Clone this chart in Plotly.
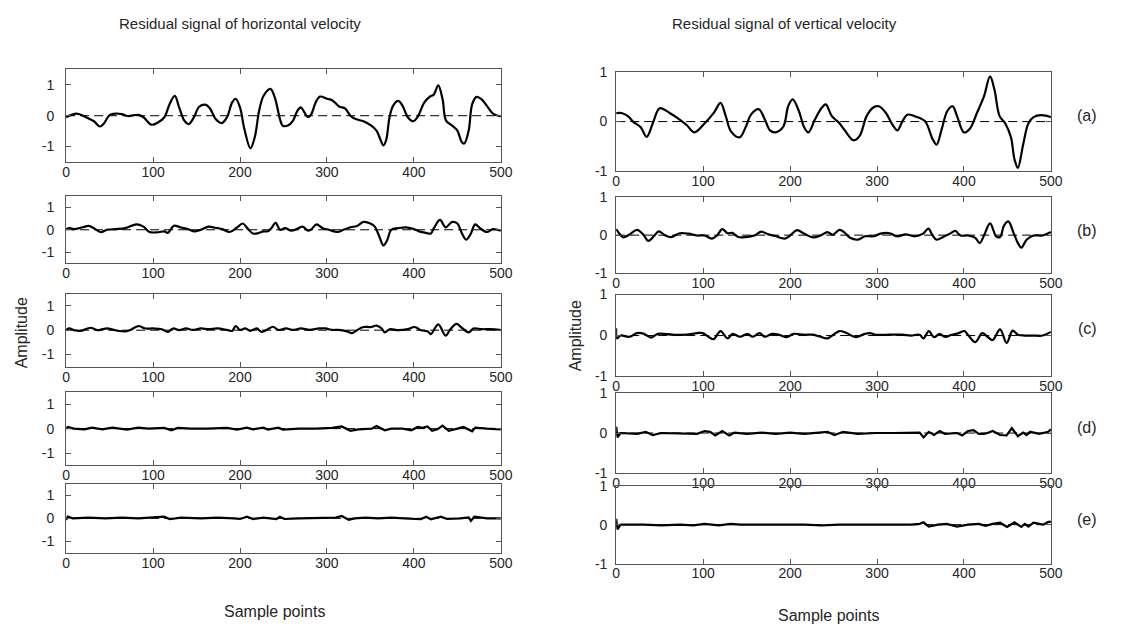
import plotly.graph_objects as go
from plotly.subplots import make_subplots

# ---------------------------------------------------------------
# Residual signals (sample index, amplitude) for each decomposition level
# ---------------------------------------------------------------
# horizontal velocity
h_a_x = [0, 12, 23, 32, 39, 43, 50, 57, 64, 71, 83, 89, 98, 106, 113, 119, 125, 130, 136, 141,
         147, 153, 161, 166, 172, 179, 185, 191, 195, 200, 205, 212, 217, 222, 227, 235, 240, 246, 249, 255,
         261, 266, 270, 274, 278, 282, 287, 292, 300, 306, 314, 321, 327, 333, 342, 351, 357, 361, 365, 368,
         372, 376, 382, 387, 393, 399, 404, 412, 418, 423, 428, 433, 437, 444, 450, 455, 458, 463, 467, 472,
         478, 484, 491, 500]
h_a_y = [-0.05, 0.07, -0.05, -0.18, -0.35, -0.27, 0.02, 0.07, 0.05, -0.01, 0.03, -0.05, -0.29, -0.21, -0.05, 0.37, 0.64, 0.27, -0.16, -0.27,
         -0.05, 0.29, 0.35, 0.21, -0.11, -0.24, -0.05, 0.43, 0.55, 0.27, -0.43, -1.06, -0.69, 0.16, 0.64, 0.87, 0.59, -0.11, -0.32, -0.32,
         -0.16, 0.16, 0.27, 0.11, -0.05, 0.05, 0.43, 0.62, 0.55, 0.5, 0.3, 0.23, 0.0, -0.11, -0.18, -0.32, -0.48, -0.74, -0.96, -0.8,
         -0.05, 0.32, 0.48, 0.32, -0.05, -0.18, -0.05, 0.43, 0.61, 0.69, 0.98, 0.53, -0.16, -0.32, -0.48, -0.85, -0.9, -0.48, 0.37, 0.61,
         0.53, 0.32, 0.07, -0.02]

h_b_x = [0, 4, 9, 19, 26, 32, 40, 47, 57, 68, 81, 89, 96, 106, 113, 117, 124, 132, 140, 147,
         155, 164, 170, 179.5, 188, 196.5, 203, 210, 215, 221, 227, 232, 236, 241, 246, 252, 259, 265, 272, 278,
         281.5, 288, 295, 302, 312, 319, 327, 334.5, 342, 350, 355, 360, 365, 369, 374, 382, 391, 399, 406, 414,
         419.5, 423, 430, 436.5, 444, 450, 455, 460, 465, 470.5, 476, 484, 491, 500]
h_b_y = [0.03, 0.07, 0.03, 0.11, 0.17, 0.07, -0.11, 0.0, 0.03, 0.07, 0.24, 0.14, -0.1, -0.11, -0.07, -0.14, 0.18, 0.1, 0.03, -0.07,
         0.0, 0.14, 0.1, 0.03, -0.1, 0.1, 0.28, 0.0, -0.17, -0.15, -0.07, -0.07, 0.07, 0.31, 0.0, 0.07, -0.04, 0.03, 0.14, -0.04,
         0.0, 0.24, 0.07, 0.0, -0.1, 0.0, 0.11, 0.17, 0.35, 0.28, 0.14, -0.28, -0.7, -0.49, 0.0, 0.07, 0.11, 0.04, -0.07, -0.14,
         -0.17, 0.07, 0.44, 0.11, 0.35, 0.28, -0.14, -0.44, -0.21, 0.24, 0.07, -0.1, 0.03, -0.04]

h_c_x = [0, 4, 9, 17, 28, 36, 42, 47, 55, 60.5, 68, 74, 83, 91, 100, 110, 117, 123, 130, 138,
         145.5, 155, 164, 174, 185, 191, 195, 200, 206, 212, 219, 225, 232, 238, 244, 253, 261, 270, 280, 291,
         298.5, 306, 313.5, 323, 329, 334.5, 342, 351, 357, 363, 366.5, 372, 382, 393, 401, 408, 416, 419.5, 428, 436.5,
         442, 449, 455, 463, 468.5, 478, 487.5, 500]
h_c_y = [0.01, 0.07, 0.0, -0.03, 0.1, 0.0, 0.04, 0.07, 0.01, -0.03, -0.05, 0.01, 0.17, 0.07, 0.07, 0.04, -0.07, 0.07, 0.0, 0.07,
         0.01, 0.07, 0.04, 0.07, 0.01, -0.03, 0.17, 0.01, 0.07, -0.03, 0.07, -0.07, 0.04, 0.14, 0.01, 0.07, 0.01, 0.07, 0.01, 0.07,
         0.07, 0.01, 0.01, -0.05, -0.12, 0.0, 0.13, 0.13, 0.19, 0.07, -0.09, 0.04, 0.0, 0.04, 0.13, 0.0, -0.05, -0.16, 0.24, -0.22,
         0.04, 0.26, 0.1, -0.09, 0.07, 0.04, 0.04, 0.0]

h_d_x = [0, 2, 9, 21, 30, 41.5, 53, 70, 83, 94.5, 113, 121, 128.5, 143.5, 162.5, 185, 196.5, 208, 215, 227,
         232, 244, 249.5, 268, 287, 306, 317, 327, 336, 351.5, 357, 366.5, 374, 387, 397, 404.5, 410, 415.5, 421, 427,
         433, 440, 450, 457, 467, 470.5, 484, 500]
h_d_y = [0.0, 0.07, 0.0, -0.03, 0.04, -0.03, 0.04, -0.04, 0.04, 0.0, 0.03, -0.07, 0.03, 0.0, 0.0, 0.03, -0.04, 0.04, -0.03, 0.04,
         -0.04, 0.04, -0.04, 0.0, 0.0, 0.03, 0.09, -0.09, -0.03, 0.0, 0.11, -0.07, 0.0, 0.0, -0.07, 0.07, 0.03, 0.09, -0.09, -0.03,
         0.12, -0.09, 0.0, 0.07, -0.11, 0.04, 0.0, -0.03]

h_e_x = [0, 2, 7.5, 26, 45, 64, 83, 102, 113, 119, 132, 155, 174, 193, 200, 208, 215, 227, 242, 246,
         251, 268, 291, 310, 317, 325, 332, 344, 359, 374, 389, 408, 414, 419.5, 431, 438, 453.5, 463, 465.5, 469.5,
         484, 500]
h_e_y = [-0.07, 0.07, 0.0, 0.03, 0.0, 0.03, 0.0, 0.03, 0.07, -0.04, 0.03, 0.0, 0.03, 0.0, -0.03, 0.07, -0.03, 0.03, -0.03, 0.07,
         -0.03, 0.0, 0.0, 0.03, 0.1, -0.07, 0.0, 0.03, 0.0, 0.03, 0.0, -0.04, 0.07, -0.04, 0.07, -0.03, 0.0, 0.04, -0.11, 0.07,
         0.0, 0.0]

# vertical velocity
v_a_x = [0, 7, 13.5, 20, 28, 35, 42, 50, 61, 73, 81, 90, 101.5, 112, 120, 126, 132, 142, 149, 155,
         164, 171, 177, 183, 192, 198, 203, 210, 216, 221, 228.5, 236, 241, 248, 256, 263, 273, 280, 288, 296,
         302, 310, 318, 323.5, 329, 335, 343, 355, 364, 368.5, 374, 381, 387, 392, 400, 407, 415, 423, 430, 435,
         441, 447.5, 454, 458, 462, 468, 474, 480, 489, 500]
v_a_y = [0.17, 0.17, 0.11, -0.01, -0.11, -0.31, -0.04, 0.27, 0.18, 0.04, -0.07, -0.22, -0.04, 0.17, 0.38, 0.11, -0.2, -0.32, -0.11, 0.14,
         0.25, 0.04, -0.18, -0.22, -0.11, 0.32, 0.45, 0.22, -0.11, -0.22, 0.04, 0.27, 0.35, 0.11, -0.02, -0.18, -0.38, -0.29, 0.11, 0.29,
         0.31, 0.18, -0.07, -0.18, 0.0, 0.14, 0.11, 0.01, -0.36, -0.47, -0.18, 0.22, 0.31, 0.11, -0.22, -0.14, 0.18, 0.51, 0.92, 0.65,
         0.11, -0.04, -0.32, -0.76, -0.94, -0.47, -0.04, 0.09, 0.13, 0.09]

v_b_x = [0, 3, 8, 15.5, 24, 31, 37, 44, 49, 56.5, 63, 73, 83, 93, 101.5, 110, 116, 122, 128, 133.5,
         140.5, 149, 159, 167, 175, 183.5, 194, 200, 208, 216, 226.5, 235, 243, 249, 257, 263, 269, 278, 286, 296,
         304, 314.5, 323, 333, 343, 353, 359, 364, 368.5, 376, 384, 390, 396, 404.5, 413, 418, 423, 430, 437, 441.5,
         446, 451, 457, 462, 466, 472, 480, 490.5, 500]
v_b_y = [0.16, 0.06, -0.06, 0.02, 0.14, 0.02, -0.15, -0.01, 0.1, -0.01, -0.05, 0.05, 0.04, -0.01, -0.01, -0.09, -0.01, 0.16, 0.05, 0.06,
         -0.05, -0.05, -0.01, 0.09, 0.02, -0.03, -0.09, -0.01, 0.13, 0.04, -0.06, -0.01, 0.08, 0.01, 0.14, 0.06, -0.07, -0.12, -0.03, -0.03,
         0.04, 0.05, -0.03, 0.02, -0.03, 0.04, 0.17, -0.01, -0.12, -0.05, 0.04, 0.11, -0.01, -0.01, -0.07, -0.21, -0.01, 0.31, -0.03, -0.05,
         0.25, 0.36, 0.06, -0.21, -0.33, -0.12, -0.01, -0.01, 0.08]

v_c_x = [0, 1, 5, 15.5, 24, 32, 40, 48, 65, 81, 93, 99.5, 106, 112, 120, 128, 134, 142.5, 151, 157,
         165, 171, 179, 187.5, 196, 204, 216, 226.5, 235, 243, 251, 257, 265, 275.5, 286, 292, 298, 314.5, 329, 339,
         349, 353.5, 359.5, 365.5, 372, 378, 386, 394, 400.5, 404.5, 413, 421, 427, 433, 441.5, 449, 456, 462, 470, 480,
         490.5, 500]
v_c_y = [0.18, -0.07, 0.0, -0.03, 0.06, 0.04, -0.05, 0.04, 0.02, 0.02, 0.06, 0.06, -0.03, -0.09, 0.11, -0.07, 0.04, -0.03, 0.04, -0.03,
         0.06, -0.03, 0.04, 0.02, -0.04, 0.04, 0.02, 0.02, -0.03, -0.07, 0.04, 0.11, 0.06, -0.04, 0.04, 0.06, 0.02, 0.02, 0.02, 0.0,
         0.02, -0.07, 0.11, -0.04, 0.04, -0.03, 0.02, 0.06, 0.11, 0.02, -0.16, 0.06, -0.03, -0.11, 0.15, -0.18, 0.12, 0.02, 0.0, 0.0,
         0.0, 0.09]

v_d_x = [0, 1.5, 5, 24, 34, 42, 52, 77, 93, 101.5, 108, 114, 122, 130, 136, 150.5, 167, 183.5, 200, 216,
         232.5, 243, 251, 261, 278, 298, 318.5, 339, 349, 353.5, 359.5, 365.5, 372, 378, 392, 398, 404.5, 411, 417, 423,
         427, 433, 441.5, 449, 455, 462, 468, 472, 476, 486.5, 497, 500]
v_d_y = [0.16, -0.11, 0.0, -0.02, 0.03, -0.05, 0.0, -0.02, -0.02, 0.05, 0.03, -0.06, 0.05, -0.06, 0.01, -0.02, 0.01, -0.02, 0.01, -0.02,
         0.01, 0.03, -0.05, 0.03, -0.02, 0.0, 0.0, 0.01, 0.01, -0.11, 0.03, -0.05, 0.05, -0.02, 0.0, -0.06, 0.05, 0.07, -0.02, -0.02,
         0.0, 0.05, -0.05, -0.06, 0.12, -0.08, 0.01, -0.05, 0.03, -0.02, 0.03, 0.09]

v_e_x = [0, 1.5, 5, 32, 52, 73, 89, 101.5, 118, 132, 142.5, 175, 216, 236.5, 257, 298, 339, 349, 353.5, 359.5,
         370, 380, 392, 404.5, 417, 425, 433, 441.5, 449.5, 458, 466, 470, 474, 480, 491, 497, 500]
v_e_y = [0.15, -0.12, 0.0, 0.0, -0.02, 0.0, -0.02, 0.02, -0.02, 0.02, 0.0, 0.0, 0.0, -0.02, 0.0, 0.0, 0.0, 0.02, 0.06, -0.05,
         0.0, 0.02, -0.05, 0.0, 0.02, -0.03, 0.02, 0.05, -0.06, 0.06, -0.06, 0.02, -0.05, 0.05, 0.0, 0.07, 0.07]

x_ticks = [0, 100, 200, 300, 400, 500]
y_ticks = [-1, 0, 1]
y_tick_text = ["-1", "0", "1"]
level_tags = ["(a)", "(b)", "(c)", "(d)", "(e)"]
column_titles = ["Residual signal of horizontal velocity", "Residual signal of vertical velocity"]
x_label = "Sample points"
y_label = "Amplitude"

horizontal = [(h_a_x, h_a_y), (h_b_x, h_b_y), (h_c_x, h_c_y), (h_d_x, h_d_y), (h_e_x, h_e_y)]
vertical = [(v_a_x, v_a_y), (v_b_x, v_b_y), (v_c_x, v_c_y), (v_d_x, v_d_y), (v_e_x, v_e_y)]

# ---------------------------------------------------------------
# Page geometry (pixels) and styling
# ---------------------------------------------------------------
W, H = 1128, 635
FONT = "Liberation Sans, Arial, Helvetica, sans-serif"
TEXT = "#262626"
FRAME = "#555555"

col_px = [(63, 504), (621, 1062)]
row_px = [
    [(63, 158), (193, 262), (293, 368), (394, 469), (488, 559)],
    [(66, 167), (194, 272), (294, 378), (395, 477), (490, 570)],
]
y_span = [[-1.5, 1.5], [-1, 1]]
label_standoff = [8, 5]

fig = make_subplots(rows=5, cols=2)

for c, series in enumerate([horizontal, vertical]):
    for r, (xs, ys) in enumerate(series):
        shape = "spline" if r < 3 else "linear"
        fig.add_trace(
            go.Scatter(x=xs, y=ys, mode="lines",
                       line=dict(color="black", width=2.2, shape=shape, smoothing=1.0),
                       showlegend=False, hoverinfo="skip"),
            row=r + 1, col=c + 1,
        )
        fig.add_hline(y=0, row=r + 1, col=c + 1, layer="below",
                      line=dict(color="black", width=1, dash="9px,5px"))

        idx = r * 2 + c + 1
        suffix = "" if idx == 1 else str(idx)
        x0, x1 = col_px[c]
        top, bottom = row_px[c][r]
        common = dict(showline=True, linecolor=FRAME, linewidth=1, mirror="ticks",
                      ticks="inside", ticklen=5, tickwidth=1, tickcolor=FRAME,
                      showgrid=False, zeroline=False,
                      tickfont=dict(family=FONT, size=14, color=TEXT))
        fig.layout["xaxis" + suffix].update(
            domain=[x0 / W, x1 / W], range=[0, 500], tickvals=x_ticks,
            ticktext=[str(v) for v in x_ticks], ticklabelstandoff=-3, **common)
        fig.layout["yaxis" + suffix].update(
            domain=[1 - bottom / H, 1 - top / H], range=y_span[c], tickvals=y_ticks,
            ticktext=y_tick_text, ticklabelstandoff=label_standoff[c], **common)

annotations = [
    dict(text=column_titles[0], x=239 / W, y=1 - 16 / H, size=15),
    dict(text=column_titles[1], x=792 / W, y=1 - 16 / H, size=15),
    dict(text=x_label, x=274 / W, y=1 - 619 / H, size=16),
    dict(text=x_label, x=836 / W, y=1 - 623 / H, size=16),
    dict(text=y_label, x=18 / W, y=1 - 333 / H, size=16, textangle=-90),
    dict(text=y_label, x=580 / W, y=1 - 336 / H, size=16, textangle=-90),
]
tag_y = [110, 228, 329, 430, 525]
for tag, ty in zip(level_tags, tag_y):
    annotations.append(dict(text=tag, x=1099 / W, y=1 - ty / H, size=16))

for a in annotations:
    size = a.pop("size")
    a.update(xref="paper", yref="paper", xanchor="center", yanchor="middle",
             showarrow=False, font=dict(family=FONT, size=size, color=TEXT))

fig.update_layout(
    width=W, height=H,
    margin=dict(l=0, r=0, t=0, b=0),
    paper_bgcolor="white", plot_bgcolor="white",
    annotations=annotations,
)

fig.write_html("out.html")
